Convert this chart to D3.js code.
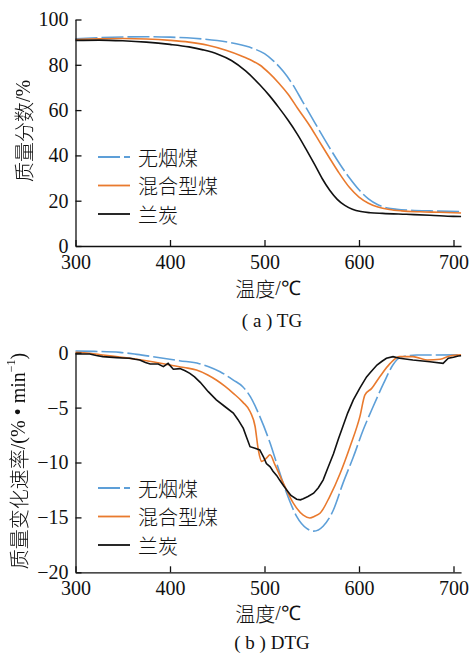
<!DOCTYPE html>
<html>
<head>
<meta charset="utf-8">
<script src="https://cdn.jsdelivr.net/npm/d3@7"></script>
<style>
  body { margin: 0; background: #fff; }
  svg text { font-family: "Liberation Serif", "Times New Roman", serif; fill: #111; }
  .cjk { font-family: "Noto Sans CJK SC", sans-serif; font-weight: 300; }
</style>
</head>
<body>
<svg id="chart" width="472" height="654"></svg>
<script>
// --- Data (temperature °C, value) ---

const seriesNames = ['无烟煤', '混合型煤', '兰炭'];
const xTicks = [300, 400, 500, 600, 700];
const tgTicks = [0, 20, 40, 60, 80, 100];
const dtgTicks = [-20, -15, -10, -5, 0];

// TG: mass fraction %
const tgAnthracite = [
  [300, 91.5], [325, 92.0], [350, 92.3], [375, 92.4], [400, 92.2], [425, 91.7],
  [450, 90.7], [470, 89.3], [480, 88.3], [490, 86.9], [500, 84.9], [510, 81.5],
  [520, 77.0], [530, 71.2], [540, 64.0], [550, 56.8], [560, 49.6], [570, 42.6],
  [580, 36.0], [590, 30.0], [600, 24.8], [610, 20.8], [620, 18.2], [630, 16.8],
  [640, 16.2], [655, 15.8], [675, 15.5], [695, 15.3], [708, 15.2]
];
const tgBlend = [
  [300, 91.2], [325, 91.5], [350, 91.6], [375, 91.4], [400, 90.8], [420, 90.0],
  [440, 88.6], [460, 86.3], [475, 84.0], [487, 81.8], [495, 79.9], [505, 76.3],
  [515, 72.0], [525, 67.0], [535, 60.8], [548, 53.0], [558, 46.2], [568, 39.4],
  [578, 32.8], [590, 25.8], [600, 21.6], [610, 18.9], [620, 17.2], [632, 16.1],
  [645, 15.5], [665, 15.1], [685, 14.9], [708, 14.6]
];
const tgSemicoke = [
  [300, 90.8], [325, 90.9], [350, 90.6], [375, 90.0], [400, 89.0], [420, 87.9],
  [435, 86.6], [450, 84.8], [465, 81.9], [480, 77.3], [495, 71.2], [505, 66.5],
  [515, 61.2], [525, 55.5], [535, 49.2], [545, 42.0], [553, 36.0], [561, 29.8],
  [569, 24.6], [577, 20.6], [585, 17.9], [593, 16.2], [602, 15.2], [612, 14.7],
  [625, 14.4], [650, 14.0], [675, 13.6], [700, 13.1], [708, 13.0]
];

// DTG: mass change rate %/min
const dtgAnthracite = [
  [300, 0.15], [320, 0.12], [347, 0.03], [365, -0.15], [382, -0.36], [410, -0.73],
  [431, -1.0], [441, -1.27], [453, -1.73], [467, -2.49], [477, -3.1], [485, -4.0],
  [495, -5.8], [506, -8.25], [513, -10.1], [523.5, -12.8], [534, -14.9], [544.6, -16.0],
  [552, -16.25], [562, -15.8], [573, -14.3], [583, -11.9], [594, -9.5], [604.6, -7.0],
  [615, -4.9], [626, -2.8], [636, -1.1], [643, -0.45], [650, -0.3], [661, -0.21],
  [682, -0.21], [708, -0.2]
];
const dtgBlend = [
  [300, 0.04], [315, -0.05], [329, -0.21], [347, -0.4], [365, -0.6], [383, -0.85],
  [400, -1.12], [415, -1.35], [428, -1.58], [440, -2.03], [449, -2.49], [458, -3.05],
  [467, -3.7], [477, -4.5], [485, -5.4], [490, -6.7], [493.5, -8.86], [497, -9.9],
  [502, -9.6], [505.8, -9.3], [511, -10.2], [520, -11.9], [530.5, -13.7], [541, -14.8],
  [548, -15.05], [553, -14.9], [559, -14.6], [569, -13.1], [580, -11.0], [590.5, -8.56],
  [601, -5.8], [606.3, -3.85], [613.4, -3.25], [622, -2.19], [633, -0.97], [643, -0.36],
  [657, -0.36], [672, -0.66], [686, -0.6], [696, -0.3], [708, -0.2]
];
const dtgSemicoke = [
  [300, -0.12], [315, -0.12], [322, -0.25], [329, -0.36], [336, -0.4], [343.6, -0.45],
  [350, -0.48], [357.7, -0.51], [363, -0.6], [368, -0.66], [374, -0.9], [379, -1.03],
  [387.6, -1.03], [393, -1.27], [398, -0.97], [403.5, -1.51], [410.6, -1.45], [416, -1.65],
  [421, -1.88], [426, -2.2], [432, -2.7], [440.5, -3.55], [449, -4.3], [458, -4.9],
  [467, -5.5], [472, -6.1], [477.6, -6.9], [481, -7.7], [484.7, -8.56], [490, -8.7],
  [495, -8.86], [499, -9.5], [502, -10.1], [506, -10.4], [509, -10.8], [513, -11.2],
  [516, -11.6], [520, -12.1], [523.5, -12.5], [528, -13.0], [534, -13.35], [538, -13.4],
  [541, -13.3], [546, -13.1], [552, -12.8], [557, -12.3], [562, -11.6], [567, -10.5],
  [573, -9.2], [578, -7.9], [583, -6.7], [588, -5.5], [594, -4.3], [601, -3.2],
  [608, -2.2], [612, -1.8], [619, -1.12], [624, -0.8], [629, -0.51], [636, -0.36],
  [643, -0.5], [657, -0.66], [675, -0.82], [689, -0.97], [694.5, -0.51], [700, -0.42],
  [705, -0.3], [708, -0.28]
];

// --- Styles ---

const styles = [
  { color: '#5d9fd8', dash: '22,4' },
  { color: '#e97a2e', dash: null },
  { color: '#111111', dash: null }
];

const svg = d3.select('#chart');

// grey filter for the rotated labels (avoids coloured fringes)
svg.append('defs').append('filter').attr('id', 'grey')
  .append('feColorMatrix').attr('type', 'saturate').attr('values', 0);

const x = d3.scaleLinear().domain([300, 708]).range([75.5, 75.5 + 408 * 0.945]);

function drawPanel(opts) {
  const { y, ticks, series, legendY, xLabelY, caption, captionY, curves } = opts;
  const g = svg.append('g');

  // Curves
  series.forEach((data, i) => {
    const line = d3.line()
      .x(d => x(d[0]))
      .y(d => y(d[1]))
      .curve(curves[i]);
    g.append('path')
      .attr('d', line(data))
      .attr('fill', 'none')
      .attr('stroke', styles[i].color)
      .attr('stroke-width', 1.6)
      .attr('stroke-dasharray', styles[i].dash);
  });

  // Axes
  const xAxis = d3.axisBottom(x).tickValues(xTicks)
    .tickSizeInner(-6).tickSizeOuter(0).tickPadding(9);
  const yAxis = d3.axisLeft(y).tickValues(ticks)
    .tickSizeInner(-6).tickSizeOuter(0).tickPadding(7);

  const ya = y.range()[0];
  const gx = g.append('g').attr('transform', `translate(0,${ya})`).call(xAxis);
  const gy = g.append('g').attr('transform', `translate(${x(300)},0)`).call(yAxis);
  [gx, gy].forEach(a => {
    a.attr('font-family', null).attr('font-size', 20);
    a.selectAll('path, line').attr('stroke', '#111').attr('stroke-width', 1.3);
  });

  // Legend
  seriesNames.forEach((name, i) => {
    const ly = legendY + i * 28.5;
    g.append('line')
      .attr('x1', 98).attr('x2', 130).attr('y1', ly).attr('y2', ly)
      .attr('stroke', styles[i].color).attr('stroke-width', 1.8)
      .attr('stroke-dasharray', styles[i].dash);
    g.append('text')
      .attr('class', 'cjk')
      .attr('x', 138).attr('y', ly)
      .attr('dominant-baseline', 'central')
      .attr('font-size', 20)
      .text(name);
  });

  // X label
  const xl = g.append('text')
    .attr('x', 268).attr('y', xLabelY)
    .attr('text-anchor', 'middle')
    .attr('dominant-baseline', 'central')
    .attr('font-size', 20);
  xl.append('tspan').attr('class', 'cjk').text('温度');
  xl.append('tspan').text('/℃');

  // Caption
  g.append('text')
    .attr('x', 272).attr('y', captionY)
    .attr('text-anchor', 'middle')
    .attr('dominant-baseline', 'central')
    .attr('font-size', 19)
    .text(caption);

  return g;
}

// (a) TG
const yTG = d3.scaleLinear().domain([0, 100]).range([246, 19.5]);
drawPanel({
  y: yTG, ticks: tgTicks,
  series: [tgAnthracite, tgBlend, tgSemicoke],
  curves: [d3.curveMonotoneX, d3.curveMonotoneX, d3.curveMonotoneX],
  legendY: 157, xLabelY: 288, caption: '( a ) TG', captionY: 320
});

svg.append('g').attr('filter', 'url(#grey)')
  .append('text')
  .attr('class', 'cjk')
  .attr('transform', 'translate(23,131) rotate(-90)')
  .attr('text-anchor', 'middle')
  .attr('dominant-baseline', 'central')
  .attr('font-size', 20)
  .call(t => {
    t.append('tspan').text('质量分数');
    t.append('tspan').attr('style', 'font-family:"Liberation Serif",serif').text('/%');
  });

// (b) DTG
const yDTG = d3.scaleLinear().domain([-20, 0]).range([572.3, 352.7]);
drawPanel({
  y: yDTG, ticks: dtgTicks,
  series: [dtgAnthracite, dtgBlend, dtgSemicoke],
  curves: [d3.curveMonotoneX, d3.curveMonotoneX, d3.curveLinear],
  legendY: 488, xLabelY: 613, caption: '( b ) DTG', captionY: 642
});

svg.append('g').attr('filter', 'url(#grey)')
  .append('text')
  .attr('class', 'cjk')
  .attr('transform', 'translate(18,461) rotate(-90)')
  .attr('text-anchor', 'middle')
  .attr('dominant-baseline', 'central')
  .attr('font-size', 20)
  .call(t => {
    t.append('tspan').text('质量变化速率');
    const s = 'font-family:"Liberation Serif",serif';
    t.append('tspan').attr('style', s).text('/(% • min');
    t.append('tspan').attr('style', s).attr('font-size', 12).attr('dy', -7).text('−1');
    t.append('tspan').attr('style', s).attr('dy', 7).text(')');
  });
</script>
</body>
</html>
